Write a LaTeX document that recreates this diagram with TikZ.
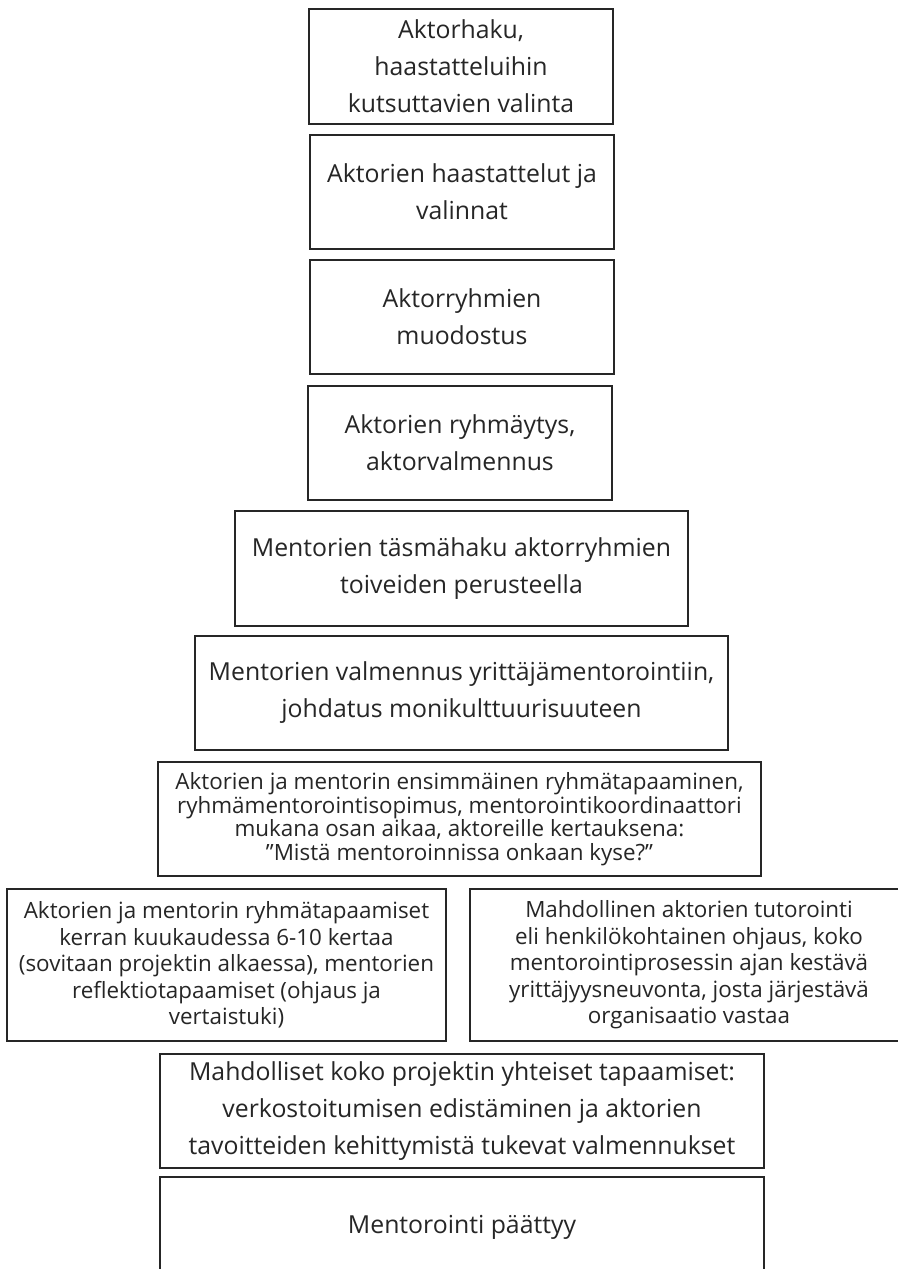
\documentclass[tikz,border=0pt]{standalone}
\usepackage{fontspec}
\setmainfont{Open Sans}
\begin{document}
\begin{tikzpicture}[x=1pt,y=1pt,
  box/.style={draw=black!85, line width=2.2pt, inner sep=0pt, align=center, text=black!85},
  bigtxt/.style={font=\fontsize{24.8}{37}\selectfont},
  smalltxt/.style={font=\fontsize{22.4}{23.6}\selectfont},
  midtxt/.style={font=\fontsize{22.4}{26.5}\selectfont}]
\useasboundingbox (0,0) rectangle (897,-1269);
\fill[white] (0,0) rectangle (897,-1269);
\node[box,bigtxt,minimum width=304,minimum height=115] (b1) at (461,-66.5)
  {Aktorhaku,\\haastatteluihin\\kutsuttavien valinta};
\node[box,bigtxt,minimum width=304,minimum height=114] (b2) at (462,-192)
  {Aktorien haastattelut ja\\valinnat};
\node[box,bigtxt,minimum width=304,minimum height=114] (b3) at (462,-317)
  {Aktorryhmien\\muodostus};
\node[box,bigtxt,minimum width=304,minimum height=114] (b4) at (460,-443)
  {Aktorien ryhmäytys,\\aktorvalmennus};
\node[box,bigtxt,minimum width=453,minimum height=115] (b5) at (461.5,-568.5)
  {Mentorien täsmähaku aktorryhmien\\toiveiden perusteella};
\node[box,bigtxt,minimum width=533,minimum height=114] (b6) at (461.5,-693)
  {Mentorien valmennus yrittäjämentorointiin,\\johdatus monikulttuurisuuteen};
\node[box,smalltxt,minimum width=603,minimum height=114] (b7) at (459.5,-819)
  {Aktorien ja mentorin ensimmäinen ryhmätapaaminen,\\ryhmämentorointisopimus, mentorointikoordinaattori\\mukana osan aikaa, aktoreille kertauksena:\\”Mistä mentoroinnissa onkaan kyse?”};
\node[box,midtxt,minimum width=439,minimum height=152] (b8l) at (226.5,-965)
  {Aktorien ja mentorin ryhmätapaamiset\\kerran kuukaudessa 6-10 kertaa\\(sovitaan projektin alkaessa), mentorien\\reflektiotapaamiset (ohjaus ja\\vertaistuki)};
\node[box,midtxt,minimum width=438,minimum height=152] (b8r) at (689,-965)
  {Mahdollinen aktorien tutorointi\\eli henkilökohtainen ohjaus, koko\\mentorointiprosessin ajan kestävä\\yrittäjyysneuvonta, josta järjestävä\\organisaatio vastaa};
\node[box,bigtxt,minimum width=604,minimum height=114] (b9) at (462,-1111)
  {Mahdolliset koko projektin yhteiset tapaamiset:\\verkostoitumisen edistäminen ja aktorien\\tavoitteiden kehittymistä tukevat valmennukset};
\node[box,bigtxt,minimum width=604,minimum height=100] (b10) at (462,-1227)
  {Mentorointi päättyy};
\end{tikzpicture}
\end{document}
